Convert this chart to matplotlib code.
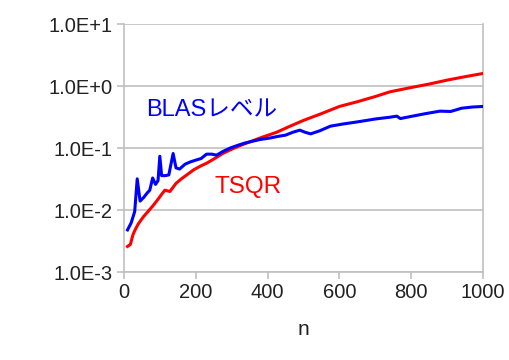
import math
import matplotlib
matplotlib.use('Agg')
import matplotlib.pyplot as plt
from matplotlib.ticker import FuncFormatter, FixedLocator, NullLocator

plt.rcParams['font.family'] = ['Liberation Sans', 'Noto Sans CJK JP', 'DejaVu Sans']

# BLAS level timing
n_blas = [10, 20, 30, 37, 45, 55, 65, 72, 80, 88, 95, 100, 105, 115, 125, 137, 145,
          155, 170, 185, 200, 215, 230, 245, 258, 275, 295, 315, 335, 355, 380, 405,
          430, 450, 470, 490, 505, 520, 545, 575, 610, 650, 700, 740, 760, 770, 800,
          840, 880, 910, 940, 970, 1000]
t_blas = [0.0048, 0.0062, 0.0095, 0.032, 0.014, 0.016, 0.019, 0.021, 0.033, 0.026,
          0.030, 0.074, 0.036, 0.036, 0.037, 0.082, 0.048, 0.046, 0.055, 0.060, 0.064,
          0.068, 0.080, 0.080, 0.077, 0.088, 0.100, 0.110, 0.120, 0.128, 0.138, 0.145,
          0.155, 0.162, 0.180, 0.195, 0.180, 0.170, 0.190, 0.226, 0.245, 0.265, 0.295,
          0.315, 0.328, 0.300, 0.325, 0.360, 0.395, 0.390, 0.440, 0.460, 0.470]

# TSQR timing
n_tsqr = [10, 18, 25, 31, 40, 54, 65, 82, 95, 105, 114, 128, 145, 160, 175, 195, 215,
          230, 258, 275, 295, 320, 350, 385, 425, 462, 500, 550, 600, 650, 700, 741,
          800, 850, 900, 950, 1000]
t_tsqr = [0.0026, 0.0028, 0.0040, 0.0048, 0.0060, 0.0078, 0.0092, 0.012, 0.015, 0.018,
          0.021, 0.020, 0.027, 0.032, 0.037, 0.045, 0.052, 0.057, 0.071, 0.082, 0.093,
          0.108, 0.126, 0.150, 0.180, 0.225, 0.280, 0.360, 0.470, 0.560, 0.680, 0.810,
          0.950, 1.080, 1.250, 1.420, 1.600]

fig = plt.figure(figsize=(5.1, 3.6), dpi=100)
ax = fig.add_axes([0.243, 0.244, 0.704, 0.689])

ax.plot(n_tsqr, t_tsqr, color='#ff0000', lw=2.2, zorder=3)
ax.plot(n_blas, t_blas, color='#0000ff', lw=2.2, zorder=4)

ax.set_yscale('log')
ax.set_ylim(1e-3, 1e1)
ax.set_xlim(0, 1000)
ax.yaxis.set_major_locator(FixedLocator([1e-3, 1e-2, 1e-1, 1e0, 1e1]))
ax.yaxis.set_minor_locator(NullLocator())
ax.yaxis.set_major_formatter(FuncFormatter(lambda v, p: '1.0E%+d' % round(math.log10(v))))
ax.set_xticks([0, 200, 400, 600, 800, 1000])

ax.grid(axis='y', color='#c0c0c0', lw=1.2)
ax.set_axisbelow(True)
for s in ['left', 'right', 'bottom']:
    ax.spines[s].set_color('#c0c0c0')
    ax.spines[s].set_linewidth(1.2)
ax.spines['top'].set_visible(False)
ax.tick_params(direction='out', color='#c0c0c0', length=5, width=1.2,
               labelsize=14.5, labelcolor='#222222', pad=3)

ax.set_xlabel('n', fontsize=15, color='#222222', labelpad=13)

ax.text(245, 0.40, 'BLASレベル', color='#0000ff', fontsize=17, ha='center', va='center')
ax.text(347, 0.0235, 'TSQR', color='#ff0000', fontsize=17.5, ha='center', va='center')

fig.savefig('out.png', dpi=100)
